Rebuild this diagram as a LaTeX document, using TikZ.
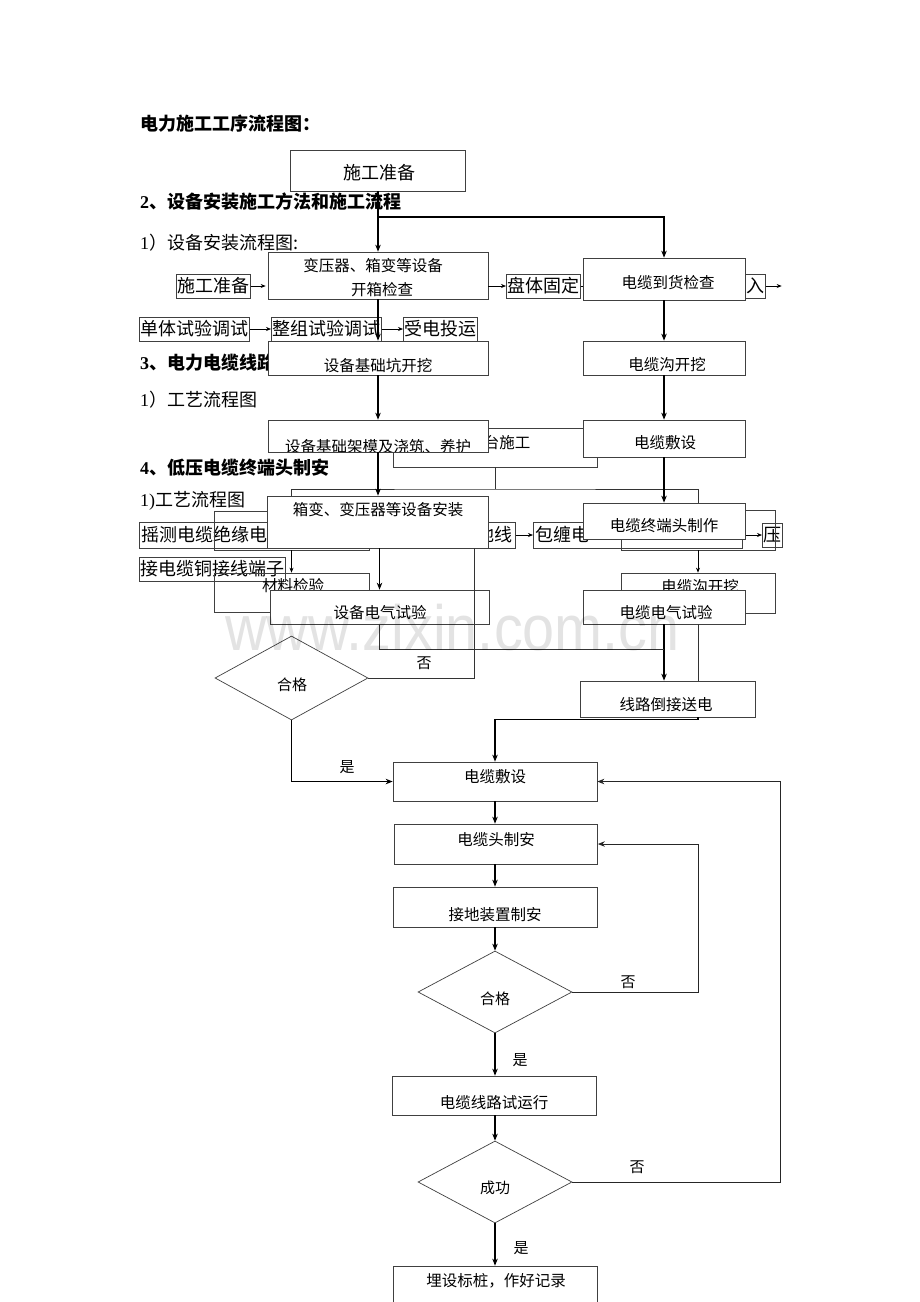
\documentclass[tikz,border=0pt]{standalone}
\usepackage{fontspec}
\setmainfont{Noto Sans CJK SC}
\newfontfamily\lat{Liberation Serif}
\newfontfamily\wmf{Liberation Sans}
\usetikzlibrary{arrows.meta,shapes.geometric}
\tikzset{
  doc/.style={anchor=west,inner sep=0pt,font=\fontsize{18}{18}\selectfont},
  hd/.style={anchor=west,inner sep=0pt,font=\bfseries\fontsize{18}{18}\selectfont},
  rb/.style={anchor=west,draw=black!75,line width=0.7pt,inner sep=1pt,minimum height=24pt,font=\fontsize{18}{18}\selectfont},
  ob/.style={draw=black!75,line width=0.7pt,inner sep=0pt},
  fb/.style={draw=black!75,line width=0.7pt,fill=white,inner sep=0pt},
  dm/.style={diamond,draw=black!75,line width=0.7pt,fill=white,inner sep=0pt},
  ft/.style={inner sep=0pt,font=\fontsize{15.5}{16}\selectfont},
  lb/.style={inner sep=0pt,font=\fontsize{15}{15}\selectfont},
  ar/.style={-{Stealth[length=7pt,width=5.5pt]},line width=1.2pt,black},
  sa/.style={-{Stealth[length=5pt,width=4pt]},line width=0.7pt,black},
  ln/.style={line width=0.8pt,black!80},
  fa/.style={-{Stealth[length=7pt,width=5.5pt]},line width=1pt,black!85},
}
\begin{document}
\begin{tikzpicture}[x=1pt,y=-1pt]
\useasboundingbox (0,0) rectangle (920,1302);
\fill[white] (0,0) rectangle (920,1302);

% ---------- document text layer ----------
\node[hd] (h1) at (140,124) {电力施工工序流程图：};
\node[hd] (h2) at (140,202) {{\lat\bfseries 2}、设备安装施工方法和施工流程};
\node[doc] (h3) at (140,243) {{\lat 1}）设备安装流程图:};
\node[rb] (r1a) at (176,286) {施工准备};
\node[rb] (r1b) at (506,286) {盘体固定};
\node[rb] (r1c) at (745,286) {入};
\draw[sa] (r1a.east) -- ++(15,0);
\draw[sa] (r1c.east) -- ++(16,0);
\draw[line width=0.7pt] (r1b.east) -- ++(4,0);
\node[rb] (r2a) at (139,329) {单体试验调试};
\node[rb] (r2b) at (271,329) {整组试验调试};
\node[rb] (r2c) at (403,329) {受电投运};
\draw[sa] (r2a.east) -- (r2b.west);
\draw[sa] (r2b.east) -- (r2c.west);
\node[hd] (h4) at (140,363) {{\lat\bfseries 3}、电力电缆线路};
\node[doc] (h5) at (140,400) {{\lat 1}）工艺流程图};
\node[hd] (h6) at (140,468) {{\lat\bfseries 4}、低压电缆终端头制安};
\node[doc] (h7) at (140,501) {{\lat 1)}工艺流程图};
\node[ob,anchor=west,minimum width=376pt,minimum height=26pt] (r3a) at (139,535) {};
\node[doc] (r3t) at (141,535) {摇测电缆绝缘电};
\node[doc,anchor=east] (r3u) at (513,535) {地线};
\node[ob,anchor=west,minimum width=209pt,minimum height=26pt] (r3b) at (533,535) {};
\node[doc] (r3v) at (535,535) {包缠电};
\node[rb] (r3c) at (762,535) {压};
\draw[sa] (r3a.east) -- (r3b.west);
\draw[sa] (r3b.east) -- (r3c.west);
\node[rb] (r4a) at (139,569) {接电缆铜接线端子};

% ---------- hidden / behind layer ----------
\node[ob,minimum width=204pt,minimum height=39pt] (b1) at (495,447.5) {};
\node[ft] (b1t) at (507,443) {台施工};
\node[ob,minimum width=155pt,minimum height=39pt] (b2) at (291.5,530.5) {};
\node[ob,minimum width=155pt,minimum height=39pt] (b3) at (291.5,592.5) {};
\node[ft] (b3t) at (293,586) {材料检验};
\node[ob,minimum width=154pt,minimum height=40pt] (b4) at (698,530) {};
\node[ob,minimum width=154pt,minimum height=40pt] (b5) at (698,593) {};
\node[ft] (b5t) at (700,587) {电缆沟开挖};
\coordinate (j1) at (495,489);
\draw[ln] (b1.south) -- (j1);
\draw[ln] (b2.north) |- (j1) -| (b4.north);
\draw[sa] (b2.south) -- (b3.north);
\draw[sa] (b4.south) -- (b5.north);

% ---------- front flowchart ----------
\node[fb,minimum width=175pt,minimum height=41pt] (prep) at (378,170.5) {};
\node[inner sep=0pt,font=\fontsize{18}{18}\selectfont] (prept) at (379,173) {施工准备};
\node[fb,minimum width=220pt,minimum height=47pt] (xb) at (378,275.5) {};
\node[ft] (xbt1) at (373,266) {变压器、箱变等设备};
\node[ft] (xbt2) at (382,290) {开箱检查};
\draw[sa] (xb.east |- r1b.west) -- (r1b.west);
\node[fb,minimum width=162pt,minimum height=42pt] (cab1) at (664,279) {};
\node[ft] (cab1t) at (668,283) {电缆到货检查};
\node[fb,minimum width=220pt,minimum height=34pt] (kw) at (378,358) {};
\node[ft] (kwt) at (378,366) {设备基础坑开挖};
\node[fb,minimum width=162pt,minimum height=34pt] (cg) at (664,358) {};
\node[ft] (cgt) at (667,365) {电缆沟开挖};
\node[fb,minimum width=220pt,minimum height=32pt] (jm) at (378,436) {};
\begin{scope}
\clip (268,420) rectangle (488,451.5);
\node[ft] (jmt) at (378,446.5) {设备基础架模及浇筑、养护};
\end{scope}
\node[fb,minimum width=162pt,minimum height=37pt] (cf) at (664,438.5) {};
\node[ft] (cft) at (665,443) {电缆敷设};
\node[fb,minimum width=221pt,minimum height=52pt] (xa) at (378,522) {};
\node[ft] (xat) at (378,510) {箱变、变压器等设备安装};
\node[fb,minimum width=162pt,minimum height=36pt] (zd) at (664,521) {};
\node[ft] (zdt) at (664,526) {电缆终端头制作};
\node[fb,minimum width=219pt,minimum height=34pt] (sq) at (379.5,607) {};
\node[ft] (sqt) at (380,613) {设备电气试验};
\node[fb,minimum width=162pt,minimum height=34pt] (cq) at (664,607) {};
\node[ft] (cqt) at (666,613) {电缆电气试验};
\node[fb,minimum width=175pt,minimum height=36pt] (xl) at (667.5,699) {};
\node[ft] (xlt) at (666,705) {线路倒接送电};

\coordinate (br) at (378,217);
\draw[ar] (prep.south) -- (xb.north);
\draw[ar] (br) -| (cab1.north);
\draw[ar] (xb.south) -- (kw.north);
\draw[ar] (kw.south) -- (jm.north);
\draw[ar] (jm.south) -- (xa.north);
\draw[ar] (xa.south -| sq.north) -- (sq.north);
\draw[ar] (cab1.south) -- (cg.north);
\draw[ar] (cg.south) -- (cf.north);
\draw[ar] (cf.south) -- (zd.north);
\draw[ar] (cq.south) -- (cq.south |- xl.north);
\draw[ln] (b5.south |- cq.south) -- (b5.south |- xl.north);
\coordinate (j2) at (664,649);
\draw[ln] (sq.south) |- (j2);

% diamond 1
\node[dm,minimum width=153pt,minimum height=84pt] (d1) at (291.5,678) {};
\node[lb] (d1t) at (292,685) {合格};
\coordinate (j3) at (474,548);
\draw[ln] (d1.east) -| (j3);
\node[lb] (no1) at (424,663) {否};

% lower chart
\node[fb,minimum width=204pt,minimum height=39pt] (c1) at (495,781.5) {};
\node[ft] (c1t) at (495,777) {电缆敷设};
\node[fb,minimum width=203pt,minimum height=40pt] (c2) at (496,844) {};
\node[ft] (c2t) at (496,840) {电缆头制安};
\node[fb,minimum width=204pt,minimum height=40pt] (c3) at (495,907) {};
\node[ft] (c3t) at (495,915) {接地装置制安};
\node[dm,minimum width=154pt,minimum height=82pt] (d2) at (495,992) {};
\node[lb] (d2t) at (495,999) {合格};
\node[fb,minimum width=204pt,minimum height=39pt] (c4) at (494,1095.5) {};
\node[ft] (c4t) at (494,1103) {电缆线路试运行};
\node[dm,minimum width=154pt,minimum height=82pt] (d3) at (495,1182) {};
\node[lb] (d3t) at (495,1188) {成功};
\node[fb,minimum width=204pt,minimum height=45pt] (c5) at (495,1288.5) {};
\node[ft] (c5t) at (496,1281) {埋设标桩，作好记录};

\draw[ar] (b5.south |- xl.south) -- ++(0,2) -| (c1.north);
\draw[ar] (d1.south) |- (c1.west);
\node[lb] (yes1) at (347,767) {是};
\draw[ar] (c1.south) -- (c2.north -| c1.south);
\draw[ar] (c2.south -| c3.north) -- (c3.north);
\draw[ar] (c3.south) -- (d2.north);
\draw[ar] (d2.south) -- (d2.south |- c4.north);
\node[lb] (yes2) at (520,1060) {是};
\draw[ar] (c4.south -| d3.north) -- (d3.north);
\draw[ar] (d3.south) -- (c5.north);
\node[lb] (yes3) at (521,1248) {是};
\draw[fa] (d2.east) -- ++(126,0) |- (c2.east);
\node[lb] (no2) at (628,982) {否};
\draw[fa] (d3.east) -- ++(208,0) |- (c1.east);
\node[lb] (no3) at (637,1167) {否};

% watermark
\node[anchor=base west,inner sep=0pt,text=black,text opacity=0.11,xscale=0.9,font=\wmf\fontsize{64}{64}\selectfont] (wm) at (225,650) {www.zixin.com.cn};
\end{tikzpicture}
\end{document}
